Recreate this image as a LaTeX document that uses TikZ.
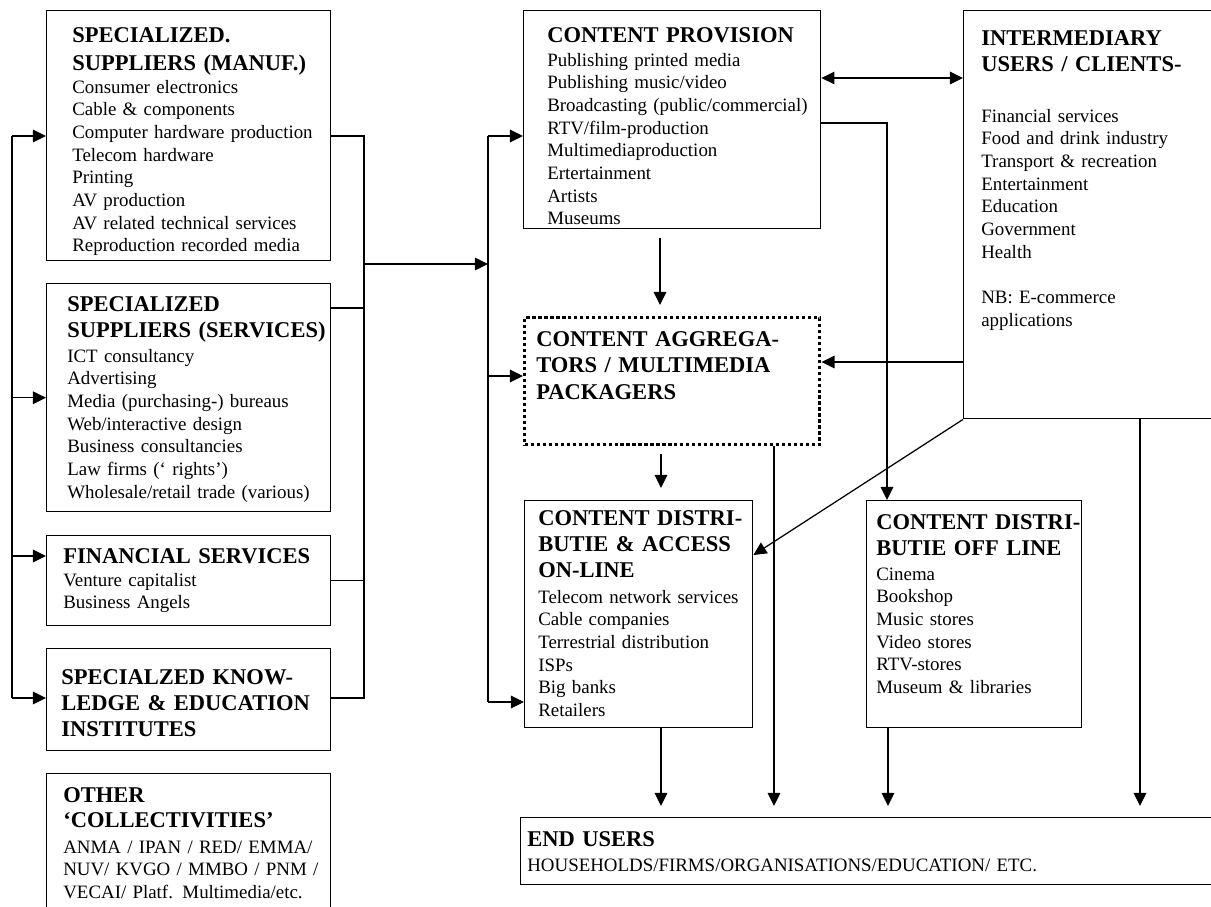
\documentclass[tikz,border=0pt]{standalone}
\usepackage{fontspec}
\setmainfont{Liberation Serif}
\usetikzlibrary{arrows.meta}
\def\pxu{0.635pt}
\begin{document}
\begin{tikzpicture}[x=0.635pt, y=-0.635pt,
  box/.style={draw, line width=0.9pt, inner sep=0pt, anchor=north west},
  dotbox/.style={draw, line width=2.2pt, dash pattern=on 2pt off 1.8pt, inner sep=0pt, anchor=north west},
  ttl/.style={font=\fontsize{14.3}{17.1}\selectfont\bfseries, anchor=base west, inner sep=0pt, align=left},
  bdy/.style={font=\fontsize{12}{14.4}\selectfont, anchor=base west, inner sep=0pt, align=left},
  conn/.style={line width=0.8pt},
  arr/.style={-{Triangle[length=8.3pt,width=8pt]}},
  arrs/.style={{Triangle[length=8.3pt,width=8pt]}-{Triangle[length=8.3pt,width=8pt]}}]
\useasboundingbox (0,0) rectangle (1211,906);
\clip (0,0) rectangle (1211,906);

% ---- boxes ----
\node[box, minimum width=284*\pxu, minimum height=250*\pxu] (manuf) at (46,10) {};
\node[box, minimum width=284*\pxu, minimum height=228*\pxu] (serv)  at (46,283) {};
\node[box, minimum width=284*\pxu, minimum height=90*\pxu]  (fin)   at (46,535) {};
\node[box, minimum width=284*\pxu, minimum height=102*\pxu] (know)  at (46,648) {};
\node[box, minimum width=284*\pxu, minimum height=160*\pxu] (other) at (46,773) {};
\node[box, minimum width=297*\pxu, minimum height=218*\pxu] (prov)  at (523,10) {};
\node[box, minimum width=270*\pxu, minimum height=408*\pxu] (inter) at (963,10) {};
\node[dotbox, minimum width=295*\pxu, minimum height=127*\pxu] (aggr) at (523,316) {};
\node[box, minimum width=228*\pxu, minimum height=227*\pxu] (online) at (524,500) {};
\node[box, minimum width=215*\pxu, minimum height=227*\pxu] (offl)  at (866,500) {};
\node[box, minimum width=710*\pxu, minimum height=67*\pxu]  (endu)  at (520,817) {};

% ---- texts ----
\node[ttl, text width=255*\pxu, font=\fontsize{14.3}{18.4}\selectfont\bfseries] (manufT) at (72,42) {SPECIALIZED.\\SUPPLIERS~(MANUF.)};
\node[bdy, text width=255*\pxu] (manufB) at (72,93) {Consumer electronics\\Cable \& components\\Computer hardware production\\Telecom hardware\\Printing\\AV production\\AV related technical services\\Reproduction recorded media};

\node[ttl, text width=262*\pxu] (servT) at (67,311) {SPECIALIZED\\SUPPLIERS~(SERVICES)};
\node[bdy, text width=262*\pxu] (servB) at (67,362) {ICT consultancy\\Advertising\\Media (purchasing-) bureaus\\Web/interactive design\\Business consultancies\\Law firms (‘ rights’)\\Wholesale/retail trade (various)};

\node[ttl, text width=265*\pxu] (finT) at (63,563) {FINANCIAL~SERVICES};
\node[bdy, text width=265*\pxu] (finB) at (63,586) {Venture capitalist\\Business Angels};

\node[ttl, text width=266*\pxu, font=\fontsize{14.3}{16.8}\selectfont\bfseries] (knowT) at (61,684) {SPECIALZED KNOW-\\LEDGE \& EDUCATION\\INSTITUTES};

\node[ttl, text width=265*\pxu, font=\fontsize{14.3}{16.5}\selectfont\bfseries] (otherT) at (63,802) {OTHER\\‘COLLECTIVITIES’};
\node[bdy, text width=265*\pxu] (otherB) at (63,853) {ANMA / IPAN / RED/ EMMA/\\NUV/ KVGO / MMBO / PNM /\\VECAI/ Platf. Multimedia/etc.};

\node[ttl, text width=270*\pxu] (provT) at (547,42) {CONTENT~PROVISION};
\node[bdy, text width=270*\pxu] (provB) at (547,66) {Publishing printed media\\Publishing music/video\\Broadcasting (public/commercial)\\RTV/film-production\\Multimediaproduction\\Ertertainment\\Artists\\Museums};

\node[ttl, text width=225*\pxu] (interT) at (981,45) {INTERMEDIARY\\USERS / CLIENTS-};
\node[bdy, text width=225*\pxu] (interB) at (981,122) {Financial services\\Food and drink industry\\Transport \& recreation\\Entertainment\\Education\\Government\\Health\\[14.4pt]NB: E-commerce\\applications};

\node[ttl, text width=270*\pxu] (aggrT) at (536,346) {CONTENT AGGREGA-\\TORS / MULTIMEDIA\\PACKAGERS};

\node[ttl, text width=212*\pxu, font=\fontsize{14.3}{16.8}\selectfont\bfseries] (onlT) at (538,525) {CONTENT DISTRI-\\BUTIE \& ACCESS\\ON-LINE};
\node[bdy, text width=212*\pxu] (onlB) at (538,603) {Telecom network services\\Cable companies\\Terrestrial distribution\\ISPs\\Big banks\\Retailers};

\node[ttl, text width=204*\pxu] (offT) at (876,529) {CONTENT~DISTRI-\\BUTIE OFF LINE};
\node[bdy, text width=204*\pxu] (offB) at (876,580) {Cinema\\Bookshop\\Music stores\\Video stores\\RTV-stores\\Museum \& libraries};

\node[ttl, text width=680*\pxu] (enduT) at (527,846) {END USERS};
\node[bdy, text width=680*\pxu] (enduB) at (527,871) {HOUSEHOLDS/FIRMS/ORGANISATIONS/EDUCATION/ ETC.};

% ---- bus coordinates ----
\coordinate (lb1) at (12,136);
\coordinate (lb4) at (12,698);
\coordinate (rb1) at (364,136);
\coordinate (rb4) at (364,698);
\coordinate (rbm) at (364,264);
\coordinate (cbm) at (488,264);
\coordinate (cb1) at (488,136);
\coordinate (cb3) at (488,702);
\coordinate (pa1) at (660,238);
\coordinate (pa2) at (660,305);
\coordinate (ao1) at (661,454);
\coordinate (ao2) at (661,488);
\coordinate (e1) at (661,806);
\coordinate (e2) at (774,806);
\coordinate (e3) at (888,806);
\coordinate (e4) at (1140,806);

% ---- left feedback bus ----
\draw[conn] (lb1) -- (lb4);
\draw[conn, arr] (lb1) -- (manuf.west |- lb1);
\draw[conn, arr] (lb1 |- serv.west) -- (serv.west);
\draw[conn, arr] (12,556) -- (fin.west |- 0,556);
\draw[conn, arr] (lb4) -- (know.west |- lb4);

% ---- right collecting bus ----
\draw[conn] (manuf.east |- rb1) -- (rb1) -- (rb4) -- (know.east |- rb4);
\draw[conn] (serv.east |- 0,308) -- (rb1 |- 0,308);
\draw[conn] (fin.east) -- (fin.east -| rb1);
\draw[conn, arr] (rbm) -- (cbm);

% ---- central distribution bus ----
\draw[conn] (cb1) -- (cb3);
\draw[conn, arr] (cb1) -- (prov.west |- cb1);
\draw[conn, arr] (cb1 |- 0,376) -- (aggr.west |- 0,376);
\draw[conn, arr] (cb3) -- (online.west |- cb3);

% ---- content chain ----
\draw[conn, arr] (pa1) -- (pa2);
\draw[conn, arr] (ao1) -- (ao2);
\draw[conn, arrs] (prov.east |- 0,78) -- (inter.west |- 0,78);
\draw[conn, arr] (prov.east |- 0,123) -| (offl.north -| 887,0);
\draw[conn, arr] (inter.west |- 0,362) -- (aggr.east |- 0,362);
\draw[conn, arr] (inter.south west) -- (online.east |- 0,555);

% ---- to end users ----
\draw[conn, arr] (online.south -| e1) -- (e1);
\draw[conn, arr] (aggr.south -| e2) -- (e2);
\draw[conn, arr] (offl.south -| e3) -- (e3);
\draw[conn, arr] (inter.south -| e4) -- (e4);
\end{tikzpicture}
\end{document}
